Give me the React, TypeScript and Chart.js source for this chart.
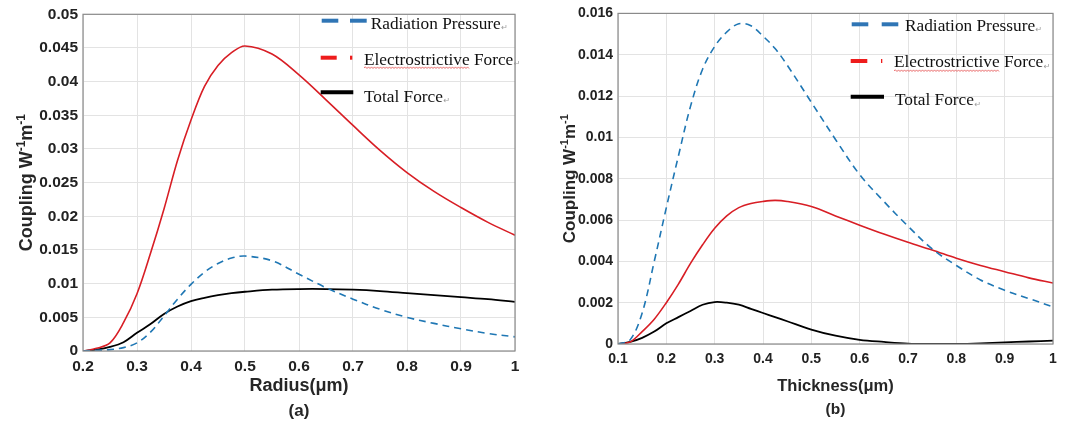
import React, { useEffect, useRef } from 'react';
import { Chart, registerables } from 'chart.js';
Chart.register(...registerables);

// ---------- data: panel (a) Radius ----------
const radius = [0.2, 0.225, 0.25, 0.275, 0.3, 0.325, 0.35, 0.375, 0.4, 0.425, 0.45, 0.475, 0.5, 0.55, 0.6, 0.65, 0.7, 0.75, 0.8, 0.85, 0.9, 0.95, 1.0];
const radiusRadiation = [0, 0.0001, 0.0002, 0.0005, 0.0012, 0.0028, 0.0052, 0.0077, 0.0099, 0.0117, 0.013, 0.0138, 0.0141, 0.0134, 0.0114, 0.0094, 0.0077, 0.0062, 0.005, 0.0041, 0.0033, 0.0026, 0.0021];
const radiusElectro = [0, 0.0004, 0.0012, 0.0042, 0.0085, 0.0145, 0.0211, 0.0283, 0.0343, 0.0393, 0.0424, 0.0443, 0.0453, 0.0441, 0.041, 0.0373, 0.0335, 0.0298, 0.0265, 0.0237, 0.0213, 0.0191, 0.0172];
const radiusTotal = [0, 0.0002, 0.0006, 0.0013, 0.0027, 0.004, 0.0055, 0.0066, 0.0074, 0.0079, 0.0083, 0.0086, 0.0088, 0.0091, 0.0092, 0.0092, 0.0091, 0.0089, 0.0086, 0.0083, 0.008, 0.0077, 0.0073];

// ---------- data: panel (b) Thickness ----------
const thickness = [0.1, 0.125, 0.15, 0.175, 0.2, 0.225, 0.25, 0.275, 0.3, 0.325, 0.35, 0.375, 0.4, 0.425, 0.45, 0.5, 0.55, 0.6, 0.65, 0.7, 0.75, 0.8, 0.85, 0.9, 0.95, 1.0];
const thickRadiation = [0, 0.0002, 0.0015, 0.004, 0.0066, 0.0091, 0.0115, 0.0133, 0.0144, 0.0151, 0.0155, 0.0154, 0.0149, 0.0143, 0.0135, 0.0117, 0.0099, 0.0082, 0.0069, 0.0057, 0.0046, 0.0038, 0.0031, 0.0026, 0.0022, 0.0018];
const thickElectro = [0, 0.0001, 0.0006, 0.0012, 0.002, 0.0029, 0.0039, 0.0048, 0.0056, 0.0062, 0.0066, 0.0068, 0.0069, 0.00695, 0.0069, 0.00665, 0.0062, 0.00575, 0.00532, 0.00492, 0.00455, 0.00415, 0.0038, 0.0035, 0.0032, 0.00295];
const thickTotal = [0, 0.0001, 0.0003, 0.0006, 0.001, 0.0013, 0.0016, 0.0019, 0.00203, 0.002, 0.0019, 0.0017, 0.0015, 0.0013, 0.0011, 0.0007, 0.0004, 0.0002, 0.0001, 0.00002, 0, 0, 0.00003, 0.00008, 0.00012, 0.00016];

const seriesNames = ['Radiation Pressure', 'Electrostrictive Force', 'Total Force'];
const yTitleMain = 'Coupling W';
const yTitleSup = '-1';
const yTitleMid = 'm';

const BLUE = '#1f77b4';
const RED = '#d81e25';
const LEG_BLUE = '#2f75b5';
const LEG_RED = '#ee1c1c';
const GRID = '#e3e3e3';
const TICK_COLOR = '#222222';
const SANS = '"Liberation Sans", Arial, Helvetica, sans-serif';
const SERIF = '"Liberation Serif", "Times New Roman", serif';

type Panel = {
  xs: number[]; rad: number[]; ele: number[]; tot: number[];
  xMin: number; xMax: number; yMax: number; yStep: number;
  xTitle: string; tag: string;
  canvasW: number; pageLeft: number;
  yAxisW: number; xAxisH: number; padTop: number; padRight: number;
  tickSize: number; xTickPad: number;
  yTitleSize: number; yTitleX: number;
  xTitleSize: number; xTitleY: number; tagSize: number; tagY: number;
  legend: { segs: number[][]; ly: number; tx: number; ty: number; color: string; under?: number }[];
};

const fmt = (v: any) => String(Number(Number(v).toFixed(4)));

function drawWavy(ctx: CanvasRenderingContext2D, x1: number, x2: number, y: number) {
  ctx.save();
  ctx.strokeStyle = '#e34b4b';
  ctx.lineWidth = 0.8;
  ctx.beginPath();
  let up = true;
  ctx.moveTo(x1, y);
  for (let x = x1 + 1.5; x <= x2; x += 1.5) {
    ctx.lineTo(x, y + (up ? -0.8 : 0.8));
    up = !up;
  }
  ctx.stroke();
  ctx.restore();
}

function decor(p: Panel) {
  return {
    id: 'decor',
    afterDraw(chart: any) {
      const ctx: CanvasRenderingContext2D = chart.ctx;
      const { left, right, top, bottom } = chart.chartArea;
      ctx.save();
      ctx.strokeStyle = '#8a8a8a';
      ctx.lineWidth = 1.2;
      ctx.strokeRect(left, top, right - left, bottom - top);

      ctx.fillStyle = '#262626';
      ctx.textAlign = 'center';
      ctx.textBaseline = 'middle';
      ctx.font = `bold ${p.xTitleSize}px ${SANS}`;
      ctx.fillText(p.xTitle, (left + right) / 2, p.xTitleY);
      ctx.font = `bold ${p.tagSize}px ${SANS}`;
      ctx.fillText(p.tag, (left + right) / 2, p.tagY);

      const big = `bold ${p.yTitleSize}px ${SANS}`;
      const small = `bold ${Math.round(p.yTitleSize * 0.66)}px ${SANS}`;
      ctx.font = big;
      const w1 = ctx.measureText(yTitleMain).width;
      const w3 = ctx.measureText(yTitleMid).width;
      ctx.font = small;
      const w2 = ctx.measureText(yTitleSup).width;
      const total = w1 + w2 + w3 + w2;
      ctx.translate(p.yTitleX, (top + bottom) / 2);
      ctx.rotate(-Math.PI / 2);
      ctx.textAlign = 'left';
      ctx.textBaseline = 'alphabetic';
      const base = p.yTitleSize * 0.36;
      const supBase = base - p.yTitleSize * 0.42;
      let x = -total / 2;
      ctx.font = big; ctx.fillText(yTitleMain, x, base); x += w1;
      ctx.font = small; ctx.fillText(yTitleSup, x, supBase); x += w2;
      ctx.font = big; ctx.fillText(yTitleMid, x, base); x += w3;
      ctx.font = small; ctx.fillText(yTitleSup, x, supBase);
      ctx.setTransform(1, 0, 0, 1, 0, 0);

      p.legend.forEach((item, i) => {
        ctx.strokeStyle = item.color;
        ctx.lineWidth = 4;
        ctx.lineCap = 'butt';
        item.segs.forEach(([a, b]) => {
          ctx.beginPath();
          ctx.moveTo(a, item.ly);
          ctx.lineTo(b, item.ly);
          ctx.stroke();
        });
        ctx.font = `17.3px ${SERIF}`;
        ctx.fillStyle = '#111111';
        ctx.textAlign = 'left';
        ctx.textBaseline = 'middle';
        const name = seriesNames[i];
        ctx.fillText(name, item.tx, item.ty);
        const tw = ctx.measureText(name).width;
        if (item.under) {
          const ww = ctx.measureText('Electrostrictive').width;
          drawWavy(ctx, item.tx, item.tx + ww, item.ty + item.under);
        }
        ctx.font = `8px "DejaVu Sans", sans-serif`;
        ctx.fillStyle = '#9a9a9a';
        ctx.fillText('\u21B5', item.tx + tw + 0.5, item.ty + 4);
      });
      ctx.restore();
    },
  };
}

function makeConfig(p: Panel): any {
  const mk = (ys: number[]) => p.xs.map((x, i) => ({ x, y: ys[i] }));
  const common = { pointRadius: 0, fill: false, cubicInterpolationMode: 'default', tension: 0.35 };
  const tickFont = { family: SANS, size: p.tickSize, weight: 'bold' as const };
  return {
    type: 'line',
    data: {
      datasets: [
        { ...common, label: seriesNames[0], data: mk(p.rad), borderColor: BLUE, borderWidth: 1.6, borderDash: [7, 5] },
        { ...common, label: seriesNames[1], data: mk(p.ele), borderColor: RED, borderWidth: 1.6 },
        { ...common, label: seriesNames[2], data: mk(p.tot), borderColor: '#000000', borderWidth: 1.8 },
      ],
    },
    options: {
      animation: false,
      responsive: false,
      maintainAspectRatio: false,
      devicePixelRatio: 1,
      events: [],
      layout: { padding: { left: 0, top: p.padTop, right: p.padRight, bottom: 0 } },
      plugins: { legend: { display: false }, tooltip: { enabled: false }, title: { display: false } },
      scales: {
        x: {
          type: 'linear',
          min: p.xMin,
          max: p.xMax,
          afterFit: (s: any) => { s.height = p.xAxisH; },
          border: { display: false },
          grid: { color: GRID, lineWidth: 1, drawTicks: false },
          ticks: { stepSize: 0.1, padding: p.xTickPad, font: tickFont, color: TICK_COLOR, maxRotation: 0, autoSkip: false, callback: fmt },
        },
        y: {
          type: 'linear',
          min: 0,
          max: p.yMax,
          afterFit: (s: any) => { s.width = p.yAxisW; },
          border: { display: false },
          grid: { color: GRID, lineWidth: 1, drawTicks: false },
          ticks: { stepSize: p.yStep, padding: 5, font: tickFont, color: TICK_COLOR, autoSkip: false, callback: fmt },
        },
      },
    },
    plugins: [decor(p)],
  };
}

const panelA: Panel = {
  xs: radius, rad: radiusRadiation, ele: radiusElectro, tot: radiusTotal,
  xMin: 0.2, xMax: 1, yMax: 0.05, yStep: 0.005,
  xTitle: 'Radius(\u03BCm)', tag: '(a)',
  canvasW: 540, pageLeft: 0,
  yAxisW: 83, xAxisH: 74, padTop: 13, padRight: 25,
  tickSize: 15.5, xTickPad: 6,
  yTitleSize: 18, yTitleX: 26,
  xTitleSize: 18, xTitleY: 386, tagSize: 17, tagY: 411,
  legend: [
    { segs: [[321.7, 338.3], [350, 366.7]], ly: 20.7, tx: 370.7, ty: 24, color: LEG_BLUE },
    { segs: [[320.7, 336.7], [350, 352.3]], ly: 57.7, tx: 364, ty: 60, color: LEG_RED, under: 7.7 },
    { segs: [[320.7, 353.3]], ly: 92.3, tx: 364, ty: 97, color: '#000000' },
  ],
};

const panelB: Panel = {
  xs: thickness, rad: thickRadiation, ele: thickElectro, tot: thickTotal,
  xMin: 0.1, xMax: 1, yMax: 0.016, yStep: 0.002,
  xTitle: 'Thickness(\u03BCm)', tag: '(b)',
  canvasW: 528, pageLeft: 540,
  yAxisW: 78, xAxisH: 81, padTop: 12, padRight: 15,
  tickSize: 14, xTickPad: 6.5,
  yTitleSize: 17, yTitleX: 29,
  xTitleSize: 16.5, xTitleY: 386, tagSize: 15.5, tagY: 410,
  legend: [
    { segs: [[311.7, 328.3], [341.7, 358.3]], ly: 24.3, tx: 365, ty: 26, color: LEG_BLUE },
    { segs: [[310.7, 327.3], [341, 342.3]], ly: 61, tx: 354, ty: 62.7, color: LEG_RED, under: 8 },
    { segs: [[310.7, 344]], ly: 96.7, tx: 355, ty: 100.7, color: '#000000' },
  ],
};

function ChartPanel({ panel }: { panel: Panel }) {
  const ref = useRef<HTMLCanvasElement>(null);
  useEffect(() => {
    if (!ref.current) return;
    const chart = new Chart(ref.current, makeConfig(panel));
    return () => chart.destroy();
  }, [panel]);
  return (
    <canvas
      ref={ref}
      width={panel.canvasW}
      height={425}
      style={{ position: 'absolute', left: panel.pageLeft, top: 0, width: panel.canvasW, height: 425 }}
    />
  );
}

export default function App() {
  return (
    <div style={{ position: 'absolute', left: 0, top: 0, width: 1068, height: 425, background: '#ffffff', overflow: 'hidden' }}>
      <ChartPanel panel={panelA} />
      <ChartPanel panel={panelB} />
    </div>
  );
}
